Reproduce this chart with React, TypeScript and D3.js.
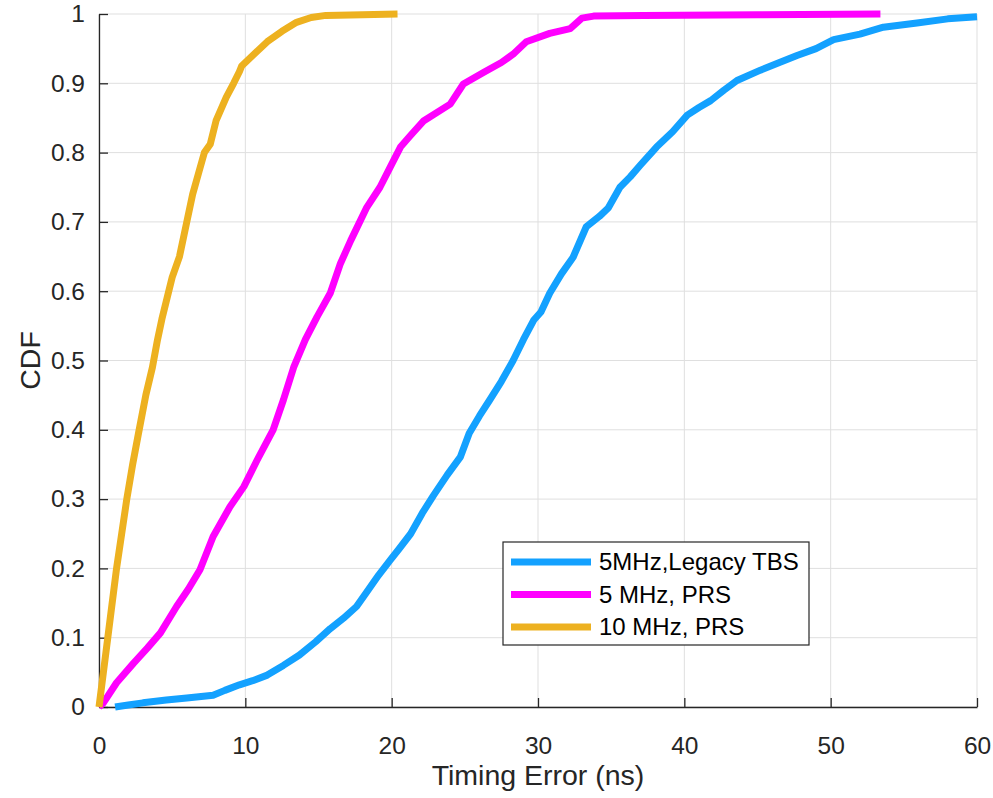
import React, { useEffect, useRef } from "react";
import * as d3 from "d3";

// timing error (ns) vs CDF
const legacyTbs5MHz = [
  [1.1, 0], [2, 0.003], [3, 0.006], [4.6, 0.01], [6, 0.013], [7.8, 0.017],
  [8.6, 0.024], [9.6, 0.032], [10.5, 0.038], [11.5, 0.046], [12.6, 0.06],
  [13.7, 0.075], [14.8, 0.094], [15.8, 0.113], [16.7, 0.128], [17.6, 0.145],
  [18.3, 0.166], [19.1, 0.19], [19.9, 0.212], [20.5, 0.228], [21.3, 0.25],
  [22.1, 0.28], [22.85, 0.305], [23.8, 0.335], [24.7, 0.361], [25.3, 0.395],
  [26.0, 0.42], [26.7, 0.443], [27.5, 0.47], [28.3, 0.5], [29.0, 0.53],
  [29.7, 0.558], [30.2, 0.57], [30.8, 0.597], [31.6, 0.625], [32.4, 0.649],
  [33.3, 0.693], [34.2, 0.708], [34.8, 0.72], [35.6, 0.75], [36.3, 0.765],
  [37.0, 0.782], [38.1, 0.808], [39.2, 0.83], [40.2, 0.854], [41.0, 0.865],
  [41.8, 0.875], [42.7, 0.89], [43.6, 0.904], [45.2, 0.919], [46.5, 0.93],
  [47.7, 0.94], [49, 0.95], [50.2, 0.963], [52, 0.971], [53.6, 0.981],
  [55.9, 0.987], [58, 0.993], [60, 0.996],
];

const prs5MHz = [
  [0, 0], [0.3, 0.006], [1.2, 0.035], [2.35, 0.063], [3.3, 0.085], [4.2, 0.107],
  [5.3, 0.145], [6.1, 0.17], [6.9, 0.198], [7.8, 0.246], [8.95, 0.289],
  [9.9, 0.318], [10.8, 0.356], [11.9, 0.4], [12.6, 0.443], [13.3, 0.49],
  [14.1, 0.53], [14.9, 0.563], [15.8, 0.597], [16.5, 0.64], [17.2, 0.673],
  [18.3, 0.721], [19.2, 0.75], [19.9, 0.779], [20.6, 0.808], [21.3, 0.825],
  [22.2, 0.846], [24.0, 0.87], [24.9, 0.899], [26.3, 0.916], [27.5, 0.93],
  [28.3, 0.942], [29.2, 0.96], [30.8, 0.972], [32.2, 0.979], [33.0, 0.994],
  [33.8, 0.997], [37.2, 0.998], [45, 0.999], [53.4, 1],
];

const prs10MHz = [
  [0, 0], [0.3, 0.05], [0.6, 0.1], [0.9, 0.15], [1.2, 0.2], [1.55, 0.25],
  [1.9, 0.3], [2.3, 0.35], [2.7, 0.395], [3.2, 0.45], [3.65, 0.49],
  [4.0, 0.53], [4.3, 0.56], [4.65, 0.59], [5.0, 0.62], [5.5, 0.65],
  [6.0, 0.7], [6.4, 0.74], [6.8, 0.77], [7.2, 0.8], [7.6, 0.812],
  [8.0, 0.846], [8.7, 0.88], [9.2, 0.9], [9.6, 0.917], [9.75, 0.925],
  [10.5, 0.94], [11.5, 0.96], [12.5, 0.975], [13.5, 0.988], [14.5, 0.995],
  [15.5, 0.998], [18, 0.999], [20.4, 1],
];

const seriesNames = ["5MHz,Legacy TBS", "5 MHz, PRS", "10 MHz, PRS"];
const seriesColors = ["#13a1ff", "#ff00ff", "#edb120"];
const xTicks = [0, 10, 20, 30, 40, 50, 60];
const yTicks = [0, 0.1, 0.2, 0.3, 0.4, 0.5, 0.6, 0.7, 0.8, 0.9, 1];

const W = 993;
const H = 798;
const margin = { left: 99, right: 16, top: 14, bottom: 91 };
const font = "'Liberation Sans', Arial, Helvetica, sans-serif";
const axisColor = "#262626";

const App = () => {
  const ref = useRef(null);

  useEffect(() => {
    document.body.style.margin = "0";
    const svg = d3.select(ref.current);
    svg.selectAll("*").remove();

    const x = d3.scaleLinear().domain([0, 60]).range([margin.left, W - margin.right]);
    const y = d3.scaleLinear().domain([0, 1]).range([H - margin.bottom, margin.top]);

    // grid
    const grid = svg.append("g");
    grid.selectAll("line.gx").data(xTicks).enter().append("line")
      .attr("x1", d => x(d)).attr("x2", d => x(d))
      .attr("y1", y(0)).attr("y2", y(1))
      .attr("stroke", "#dfdfdf").attr("stroke-width", 1);
    grid.selectAll("line.gy").data(yTicks).enter().append("line")
      .attr("x1", x(0)).attr("x2", x(60))
      .attr("y1", d => y(d)).attr("y2", d => y(d))
      .attr("stroke", "#dfdfdf").attr("stroke-width", 1);

    // axes (ticks pointing inward)
    const xAxis = svg.append("g")
      .attr("transform", `translate(0,${y(0)})`)
      .call(d3.axisBottom(x).tickValues(xTicks).tickSizeInner(-9).tickSizeOuter(0).tickPadding(22).tickFormat(d3.format("d")));
    const yAxis = svg.append("g")
      .attr("transform", `translate(${x(0)},0)`)
      .call(d3.axisLeft(y).tickValues(yTicks).tickSizeInner(-9).tickSizeOuter(0).tickPadding(14).tickFormat(d => (d === 0 || d === 1 ? String(d) : d3.format(".1f")(d))));
    [xAxis, yAxis].forEach(a => {
      a.select(".domain").attr("stroke", axisColor).attr("stroke-width", 1.3);
      a.selectAll(".tick line").attr("stroke", axisColor).attr("stroke-width", 1.3);
      a.selectAll(".tick text").attr("fill", axisColor).style("font-family", font).style("font-size", "24.5px");
    });
    xAxis.selectAll(".tick text").attr("dy", "0.35em").attr("y", 38);

    // axis labels
    svg.append("text")
      .attr("x", (x(0) + x(60)) / 2).attr("y", 785)
      .attr("text-anchor", "middle")
      .attr("fill", axisColor)
      .style("font-family", font).style("font-size", "28.5px")
      .text("Timing Error (ns)");
    svg.append("text")
      .attr("transform", `translate(40,${(y(0) + y(1)) / 2}) rotate(-90)`)
      .attr("text-anchor", "middle")
      .attr("fill", axisColor)
      .style("font-family", font).style("font-size", "28.5px")
      .text("CDF");

    // curves
    const line = d3.line().x(d => x(d[0])).y(d => y(d[1]));
    [legacyTbs5MHz, prs5MHz, prs10MHz].forEach((data, i) => {
      svg.append("path")
        .datum(data)
        .attr("d", line)
        .attr("fill", "none")
        .attr("stroke", seriesColors[i])
        .attr("stroke-width", 7)
        .attr("stroke-linejoin", "round");
    });

    // legend
    const lg = svg.append("g").attr("transform", "translate(503,542)");
    lg.append("rect")
      .attr("width", 306).attr("height", 103)
      .attr("fill", "#fff").attr("stroke", axisColor).attr("stroke-width", 1.2);
    seriesNames.forEach((name, i) => {
      const cy = 20 + i * 32.5;
      lg.append("line")
        .attr("x1", 8).attr("x2", 88).attr("y1", cy).attr("y2", cy)
        .attr("stroke", seriesColors[i]).attr("stroke-width", 7);
      lg.append("text")
        .attr("x", 96).attr("y", cy).attr("dy", "0.35em")
        .attr("fill", "#000")
        .style("font-family", font).style("font-size", "24px")
        .text(name);
    });
  }, []);

  return (
    <svg ref={ref} width={W} height={H} style={{ display: "block", background: "#fff" }} />
  );
};

export default App;
